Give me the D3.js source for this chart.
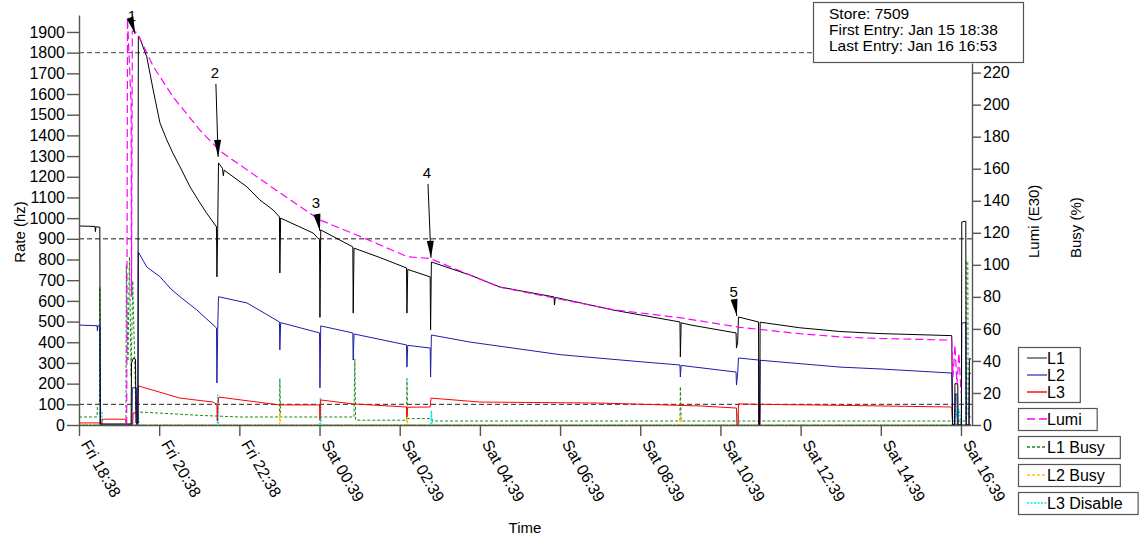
<!DOCTYPE html>
<html>
<head>
<meta charset="utf-8">
<script src="https://cdn.jsdelivr.net/npm/d3@7/dist/d3.min.js"></script>
<style>
  body { margin: 0; background: #fff; }
  svg { display: block; font-family: "Liberation Sans", Arial, Helvetica, sans-serif; }
</style>
</head>
<body>
<svg id="chart" width="1143" height="539"></svg>
<script>
// series: [hours since Fri 18:38, value]
const l1Rate = [[0,962],[0.40,960],[0.41,935],[0.42,958],[0.52,956],[0.53,5],[1.30,5],[1.31,300],[1.36,324],[1.41,318],[1.42,10],[1.47,10],[1.48,1880],[1.52,1868],[1.69,1780],[1.85,1620],[2.02,1460],[2.19,1378],[2.34,1315],[2.52,1248],[2.77,1151],[3.02,1073],[3.18,1025],[3.43,958],[3.44,716],[3.46,950],[3.48,1267],[3.58,1240],[3.60,1205],[3.62,1232],[4.19,1151],[4.51,1088],[4.84,1040],[5.00,1006],[5.01,735],[5.03,1000],[5.84,928],[6.00,895],[6.01,520],[6.03,943],[6.83,861],[6.84,541],[6.86,855],[7.50,810],[8.17,759],[8.18,541],[8.20,752],[8.76,716],[8.77,459],[8.79,788],[9.75,725],[10.50,667],[11.85,619],[11.86,580],[11.88,617],[13.32,556],[14.99,498],[15.00,329],[15.02,494],[15.24,484],[16.39,445],[16.40,372],[16.43,400],[16.45,522],[16.95,498],[16.96,0],[16.98,0],[16.99,497],[17.98,470],[18.98,452],[19.98,442],[21.77,432],[21.79,0],[21.84,0],[21.85,200],[21.92,200],[21.93,0],[22.01,0],[22.02,982],[22.12,985],[22.13,0],[22.20,0],[22.21,320],[22.25,320]];
const l2Rate = [[0,483],[0.45,480],[0.46,455],[0.47,480],[0.52,478],[0.53,0],[1.32,0],[1.33,180],[1.43,180],[1.44,0],[1.47,0],[1.48,836],[1.69,764],[2.02,717],[2.27,662],[2.52,620],[2.94,556],[3.43,469],[3.44,203],[3.46,460],[3.48,620],[4.19,590],[5.00,498],[5.01,363],[5.03,495],[6.00,445],[6.01,180],[6.03,479],[6.83,445],[6.84,314],[6.86,440],[8.17,387],[8.18,280],[8.20,385],[8.76,372],[8.77,232],[8.79,435],[9.75,401],[12.0,340],[13.99,306],[14.99,290],[15.00,232],[15.02,288],[16.39,256],[16.40,193],[16.43,250],[16.45,324],[16.95,314],[16.96,0],[16.98,0],[16.99,313],[18.98,280],[19.98,271],[21.77,251],[21.79,0],[21.85,0],[21.86,150],[21.90,150],[21.91,0],[22.01,0],[22.02,493],[22.12,495],[22.13,0],[22.20,0],[22.21,250],[22.25,250]];
const l3Rate = [[0,10],[0.57,10],[0.58,28],[1.17,28],[1.18,0],[1.34,0],[1.35,58],[1.45,58],[1.46,5],[1.48,189],[2.52,130],[3.34,111],[3.44,100],[3.45,20],[3.47,110],[3.49,135],[5.00,97],[6.00,97],[6.01,24],[6.03,121],[6.83,102],[8.17,87],[8.18,39],[8.20,86],[8.76,87],[8.78,130],[10.0,111],[13.0,106],[15.5,92],[16.40,82],[16.41,0],[16.44,0],[16.45,102],[16.95,100],[16.96,0],[16.98,0],[16.99,100],[19.0,95],[21.77,87],[21.79,0],[22.25,0]];
const lumi = [[1.19,0],[1.21,254],[1.30,200],[1.31,80],[1.33,246],[1.45,245],[1.85,224],[2.34,205],[3.02,184],[3.52,171],[5.01,145],[6.01,128],[7.08,117],[8.20,105],[8.75,104],[10.50,86],[13.32,72],[14.99,67],[16.48,61],[17.98,57],[18.98,55],[19.98,54],[21.77,53],[21.80,30],[21.85,50],[21.90,25],[21.95,45],[22.0,20]];
const l1Busy = [[0,5],[0.45,5],[0.46,13],[0.51,13],[0.52,86],[0.54,0],[1.17,0],[1.18,100],[1.22,40],[1.26,105],[1.30,30],[1.34,90],[1.42,8],[1.60,8],[3.02,6],[4.00,5],[5.00,5],[5.01,29],[5.03,5],[6.86,5],[6.88,41],[6.90,3],[8.17,3],[8.18,29],[8.20,4],[8.80,4],[8.82,2.5],[14.99,2.5],[15.00,24],[15.02,2.5],[22.12,2.5],[22.13,102],[22.17,102],[22.18,5],[22.25,5]];
const l2Busy = [[0,0],[5.00,0],[5.01,8],[5.03,0],[8.17,0],[8.18,7],[8.20,0],[14.99,0],[15.00,6],[15.02,0],[22.25,0]];
const l3Disable = [[0,0],[0.52,0],[0.53,8],[0.57,8],[0.58,0],[1.46,0],[1.47,8],[1.50,0],[3.45,0],[3.46,19],[3.48,0],[6.01,0],[6.02,17],[6.04,0],[8.78,0],[8.79,9],[8.81,0],[16.43,0],[16.44,8],[16.46,0],[21.82,0],[21.85,10],[21.90,5],[21.95,10],[22.0,0],[22.25,0]];

// axis ticks
const tickHours = [0, 2, 4, 6, 8, 10, 12, 14, 16, 18, 20, 22];
const tickLabels = ["Fri 18:38", "Fri 20:38", "Fri 22:38", "Sat 00:39", "Sat 02:39", "Sat 04:39", "Sat 06:39", "Sat 08:39", "Sat 10:39", "Sat 12:39", "Sat 14:39", "Sat 16:39"];
const rateTicks = d3.range(0, 2000, 100);
const rightTicks = d3.range(0, 240, 20);
const thresholdLines = [1800, 900, 100];

// numbered markers: tip at L1 point, label above it
const markerText = ["1", "2", "3", "4", "5"];
const markerTipHour = [1.40, 3.47, 6.01, 8.78, 16.41];
const markerTipRate = [1891, 1296, 938, 808, 527];
const markerLabelHour = [1.32, 3.39, 5.91, 8.68, 16.33];
const markerLabelRate = [1954, 1678, 1049, 1194, 619];

const infoLines = ["Store: 7509", "First Entry: Jan 15 18:38", "Last Entry: Jan 16 16:53"];

const svg = d3.select('#chart');
const x = d3.scaleLinear().domain([0, 22.25]).range([79, 971]);
const yL = d3.scaleLinear().domain([0, 1982]).range([425, 15]);
const yR = d3.scaleLinear().domain([0, 226]).range([425, 63]);

// threshold lines
const gridEnd = [813, 972, 972];
thresholdLines.forEach((v, i) => {
    svg.append('line')
        .attr('x1', 79).attr('x2', gridEnd[i])
        .attr('y1', yL(v)).attr('y2', yL(v))
        .attr('stroke', i < 2 ? '#666' : '#222')
        .attr('stroke-width', i < 2 ? 1.4 : 1)
        .attr('stroke-dasharray', '5,3');
});

// series
const series = [
    { data: l1Busy, y: yR, color: '#1a8a1a', dash: '3,2', w: 1 },
    { data: l3Disable, y: yR, color: '#00e5e5', dash: '2,1.5', w: 1.4 },
    { data: l2Busy, y: yR, color: '#ffc400', dash: '3,2', w: 1.4 },
    { data: l3Rate, y: yL, color: '#ff0000', dash: null, w: 1 },
    { data: l2Rate, y: yL, color: '#1c1ca8', dash: null, w: 1 },
    { data: l1Rate, y: yL, color: '#000', dash: null, w: 1 },
    { data: lumi, y: yR, color: '#ff00ff', dash: '8,4', w: 1.2 }
];
series.forEach(s => {
    const line = d3.line().x(d => x(d[0])).y(d => s.y(d[1]));
    svg.append('path')
        .datum(s.data)
        .attr('d', line)
        .attr('fill', 'none')
        .attr('stroke', s.color)
        .attr('stroke-width', s.w)
        .attr('stroke-dasharray', s.dash);
});

// axes
function styleAxis(g) {
    g.attr('font-size', 16).attr('font-family', '"Liberation Sans", Arial, sans-serif');
    g.selectAll('path, line').attr('stroke', '#555').attr('stroke-width', 1.4);
    g.selectAll('text').attr('fill', '#000');
}
svg.append('g')
    .attr('transform', 'translate(79,0)')
    .call(d3.axisLeft(yL).tickValues(rateTicks).tickSize(12).tickSizeOuter(0).tickPadding(2).tickFormat(d3.format('d')))
    .call(styleAxis);
svg.append('g')
    .attr('transform', 'translate(972,0)')
    .call(d3.axisRight(yR).tickValues(rightTicks).tickSize(9).tickSizeOuter(0).tickPadding(2))
    .call(styleAxis);
const xAxis = svg.append('g')
    .attr('transform', 'translate(0,425)')
    .call(d3.axisBottom(x).tickValues(tickHours).tickSize(11).tickSizeOuter(0)
        .tickFormat((d, i) => tickLabels[i]))
    .call(styleAxis);
xAxis.selectAll('text')
    .attr('text-anchor', 'start')
    .attr('dy', null)
    .attr('y', 0)
    .attr('transform', 'translate(1,19) rotate(60)');

// axis titles
svg.append('text').attr('transform', 'translate(25,232) rotate(-90)')
    .attr('text-anchor', 'middle').attr('font-size', 15).text('Rate (hz)');
svg.append('text').attr('transform', 'translate(1039,258) rotate(-90)')
    .attr('font-size', 15).text('Lumi (E30)');
svg.append('text').attr('transform', 'translate(1081,258) rotate(-90)')
    .attr('font-size', 15).text('Busy (%)');
svg.append('text').attr('x', 525).attr('y', 533)
    .attr('text-anchor', 'middle').attr('font-size', 15).text('Time');

// markers
markerText.forEach((t, i) => {
    const tx = x(markerTipHour[i]), ty = yL(markerTipRate[i]);
    const lx = x(markerLabelHour[i]), ly = yL(markerLabelRate[i]);
    svg.append('text').attr('x', lx).attr('y', ly)
        .attr('text-anchor', 'middle').attr('font-size', 15).text(t);
    const sx = lx + 1, sy = ly + 6;
    const ang = Math.atan2(ty - sy, tx - sx);
    svg.append('line').attr('x1', sx).attr('y1', sy).attr('x2', tx).attr('y2', ty)
        .attr('stroke', '#000').attr('stroke-width', 1);
    const len = 17, half = 3.5;
    const bx = tx - len * Math.cos(ang), by = ty - len * Math.sin(ang);
    const px = -Math.sin(ang) * half, py = Math.cos(ang) * half;
    svg.append('path')
        .attr('d', `M${tx},${ty}L${bx + px},${by + py}L${bx - px},${by - py}Z`)
        .attr('fill', '#000');
});

// info box
svg.append('rect').attr('x', 813.5).attr('y', 2.5).attr('width', 210).attr('height', 60)
    .attr('fill', '#fff').attr('stroke', '#555').attr('stroke-width', 1.2);
infoLines.forEach((t, i) => {
    svg.append('text').attr('x', 829).attr('y', 19 + i * 16)
        .attr('font-size', 15.5).text(t);
});

// legend
const legendGroups = [
    [{ name: 'L1', color: '#555', dash: null }, { name: 'L2', color: '#4444cc', dash: null }, { name: 'L3', color: '#ff0000', dash: null }],
    [{ name: 'Lumi', color: '#ff00ff', dash: '8,4' }],
    [{ name: 'L1 Busy', color: '#1a8a1a', dash: '3,2' }],
    [{ name: 'L2 Busy', color: '#ffc400', dash: '3,2' }],
    [{ name: 'L3 Disable', color: '#00e5e5', dash: '2,1.5' }]
];
let ly = 347;
legendGroups.forEach(group => {
    const g = svg.append('g');
    const h = group.length === 1 ? 22 : 55;
    const box = g.append('rect').attr('x', 1018.5).attr('y', ly + 0.5).attr('height', h)
        .attr('fill', '#fff').attr('stroke', '#555').attr('stroke-width', 1.2);
    let maxW = 0;
    group.forEach((d, i) => {
        const cy = ly + 11 + i * 17;
        g.append('line').attr('x1', 1027).attr('x2', 1047).attr('y1', cy).attr('y2', cy)
            .attr('stroke', d.color).attr('stroke-width', 1.4).attr('stroke-dasharray', d.dash);
        const t = g.append('text').attr('x', 1047).attr('y', cy + 5.5)
            .attr('font-size', 16).text(d.name);
        maxW = Math.max(maxW, t.node().getComputedTextLength());
    });
    box.attr('width', 1047 + maxW + 15 - 1018);
    ly += h + 6;
});
</script>
</body>
</html>
